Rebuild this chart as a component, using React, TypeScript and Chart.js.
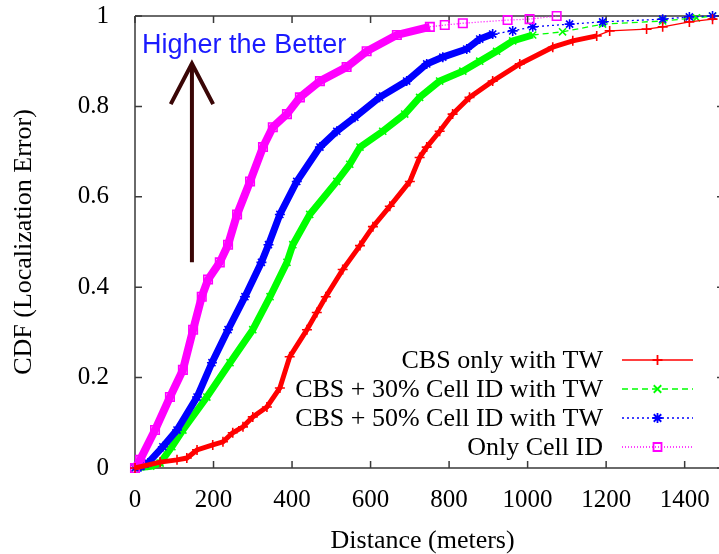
import React, { useEffect, useRef } from "react";
import { Chart, registerables } from "chart.js";

Chart.register(...registerables);

// ---------- data ----------
const xTickValues = [0, 200, 400, 600, 800, 1000, 1200, 1400];
const yTickValues = [0, 0.2, 0.4, 0.6, 0.8, 1];

const seriesLabels = [
  "CBS only with TW",
  "CBS + 30% Cell ID with TW",
  "CBS + 50% Cell ID with TW",
  "Only Cell ID",
];

const cbsDist = [0, 64, 107, 132, 158, 198, 224, 249, 275, 300, 336, 369, 394, 438, 463, 486, 529, 573, 606, 649, 700, 725, 743, 776, 809, 852, 911, 980, 1064, 1115, 1176, 1209, 1303, 1344, 1412, 1471];
const cbsCdf = [0, 0.013, 0.018, 0.022, 0.04, 0.051, 0.058, 0.078, 0.091, 0.113, 0.135, 0.177, 0.246, 0.306, 0.344, 0.379, 0.439, 0.492, 0.534, 0.579, 0.634, 0.687, 0.71, 0.745, 0.783, 0.82, 0.856, 0.894, 0.931, 0.945, 0.956, 0.967, 0.971, 0.976, 0.987, 0.993];

const cell30Dist = [0, 40, 64, 94, 122, 183, 242, 300, 344, 387, 402, 445, 514, 547, 573, 631, 687, 725, 776, 835, 878, 921, 962, 1013, 1089, 1191, 1344, 1430, 1471];
const cell30Cdf = [0, 0.004, 0.011, 0.047, 0.084, 0.157, 0.233, 0.306, 0.379, 0.455, 0.494, 0.561, 0.634, 0.672, 0.71, 0.745, 0.783, 0.82, 0.856, 0.878, 0.9, 0.922, 0.945, 0.958, 0.965, 0.982, 0.989, 0.996, 1.0];

const cell50Dist = [0, 15, 33, 71, 107, 158, 196, 237, 280, 322, 340, 369, 412, 471, 514, 560, 623, 692, 743, 784, 845, 878, 911, 962, 1013, 1107, 1191, 1344, 1412, 1471];
const cell50Cdf = [0, 0.003, 0.011, 0.047, 0.084, 0.157, 0.233, 0.306, 0.379, 0.455, 0.494, 0.561, 0.634, 0.71, 0.745, 0.776, 0.82, 0.856, 0.894, 0.909, 0.927, 0.949, 0.96, 0.967, 0.976, 0.982, 0.987, 0.993, 0.998, 1.0];

const cellOnlyDist = [0, 13, 51, 89, 122, 148, 170, 186, 216, 237, 260, 293, 326, 351, 387, 420, 471, 539, 590, 667, 751, 789, 835, 949, 1005, 1074];
const cellOnlyCdf = [0, 0.018, 0.084, 0.157, 0.217, 0.306, 0.379, 0.417, 0.455, 0.494, 0.561, 0.634, 0.71, 0.754, 0.783, 0.82, 0.856, 0.887, 0.922, 0.958, 0.976, 0.98, 0.984, 0.991, 0.993, 1.0];

const annotationText = "Higher the Better";

// ---------- styles ----------
const SERIF = "'Liberation Serif', 'Times New Roman', serif";
const SANS = "'Liberation Sans', Arial, sans-serif";

type Style = {
  color: string;
  dash: number[];
  point: string;
  band: number;
  radius: number;
  denseUntil: number;
};

const styles: Style[] = [
  { color: "#ff0000", dash: [], point: "cross", band: 5, radius: 5, denseUntil: 0.95 },
  { color: "#00ff00", dash: [6, 4], point: "crossRot", band: 7, radius: 5, denseUntil: 0.955 },
  { color: "#0000ff", dash: [2, 3], point: "star", band: 7, radius: 5, denseUntil: 0.955 },
  { color: "#ff00ff", dash: [1, 2], point: "rect", band: 8, radius: 6, denseUntil: 0.975 },
];

function toPoints(xs: number[], ys: number[]) {
  return xs.map((x, i) => ({ x, y: ys[i] }));
}

const allSeries = [
  toPoints(cbsDist, cbsCdf),
  toPoints(cell30Dist, cell30Cdf),
  toPoints(cell50Dist, cell50Cdf),
  toPoints(cellOnlyDist, cellOnlyCdf),
];

function drawMarker(ctx: CanvasRenderingContext2D, kind: string, x: number, y: number, r: number) {
  ctx.beginPath();
  if (kind === "cross" || kind === "star") {
    ctx.moveTo(x - r, y); ctx.lineTo(x + r, y);
    ctx.moveTo(x, y - r); ctx.lineTo(x, y + r);
  }
  if (kind === "crossRot" || kind === "star") {
    const d = r * 0.75;
    ctx.moveTo(x - d, y - d); ctx.lineTo(x + d, y + d);
    ctx.moveTo(x - d, y + d); ctx.lineTo(x + d, y - d);
  }
  if (kind === "rect") {
    ctx.rect(x - r * 0.8, y - r * 0.8, r * 1.6, r * 1.6);
  }
  ctx.stroke();
}

const decorPlugin = {
  id: "decor",
  beforeDatasetsDraw(chart: any) {
    const { ctx, chartArea: a, scales } = chart;
    const xs = scales.x;
    const ys = scales.y;
    const W = chart.width;
    ctx.save();
    ctx.strokeStyle = "#3a3a3a";
    ctx.lineWidth = 1.5;
    ctx.beginPath();
    ctx.moveTo(a.left, a.top);
    ctx.lineTo(W, a.top);
    ctx.moveTo(a.left, a.top);
    ctx.lineTo(a.left, a.bottom);
    ctx.lineTo(W, a.bottom);
    ctx.stroke();
    const tl = 7;
    ctx.beginPath();
    xTickValues.forEach((v) => {
      const px = xs.getPixelForValue(v);
      ctx.moveTo(px, a.bottom);
      ctx.lineTo(px, a.bottom - tl);
      ctx.moveTo(px, a.top);
      ctx.lineTo(px, a.top + tl);
    });
    yTickValues.forEach((v) => {
      const py = ys.getPixelForValue(v);
      ctx.moveTo(a.left, py);
      ctx.lineTo(a.left + tl, py);
      ctx.moveTo(W, py);
      ctx.lineTo(W - 2, py);
    });
    ctx.stroke();
    ctx.restore();
  },
  afterDraw(chart: any) {
    const { ctx, chartArea: a, scales } = chart;
    const xs = scales.x;
    const ys = scales.y;
    ctx.save();

    // annotation text
    ctx.fillStyle = "#1a1aff";
    ctx.font = `27px ${SANS}`;
    ctx.textAlign = "left";
    ctx.textBaseline = "alphabetic";
    ctx.fillText(annotationText, xs.getPixelForValue(18), ys.getPixelForValue(0.918));

    // arrow
    const ax = xs.getPixelForValue(145);
    const yBot = ys.getPixelForValue(0.455);
    const yTop = ys.getPixelForValue(0.895);
    const headDx = xs.getPixelForValue(145 + 54) - ax;
    const headDy = ys.getPixelForValue(0.805) - yTop;
    ctx.strokeStyle = "#3a0606";
    ctx.lineWidth = 4;
    ctx.lineCap = "butt";
    ctx.beginPath();
    ctx.moveTo(ax, yBot);
    ctx.lineTo(ax, yTop);
    ctx.stroke();
    ctx.beginPath();
    ctx.moveTo(ax - headDx, yTop + headDy);
    ctx.lineTo(ax, yTop);
    ctx.lineTo(ax + headDx, yTop + headDy);
    ctx.stroke();

    // legend
    const textRight = 603;
    const sampleL = 622;
    const sampleR = 693;
    const sampleM = (sampleL + sampleR) / 2;
    const rowY0 = a.bottom - 108;
    const rowGap = 29;
    ctx.font = `26px ${SERIF}`;
    ctx.textAlign = "right";
    ctx.textBaseline = "middle";
    seriesLabels.forEach((label, i) => {
      const y = rowY0 + i * rowGap;
      const st = styles[i];
      ctx.fillStyle = "#000";
      ctx.fillText(label, textRight, y + 1);
      ctx.strokeStyle = st.color;
      ctx.lineWidth = 1.3;
      ctx.setLineDash(st.dash);
      ctx.beginPath();
      ctx.moveTo(sampleL, y);
      ctx.lineTo(sampleR, y);
      ctx.stroke();
      ctx.setLineDash([]);
      ctx.lineWidth = 1.8;
      drawMarker(ctx, st.point, sampleM, y, 5);
    });
    ctx.restore();
  },
};

export default function App() {
  const canvasRef = useRef<HTMLCanvasElement | null>(null);

  useEffect(() => {
    const canvas = canvasRef.current;
    if (!canvas) return;
    const datasets = allSeries.map((pts, i) => {
      const st = styles[i];
      return {
        label: seriesLabels[i],
        data: pts,
        borderColor: st.color,
        backgroundColor: st.color,
        borderWidth: st.band,
        pointStyle: st.point,
        pointRadius: st.radius,
        pointBorderWidth: 1.6,
        pointBorderColor: st.color,
        pointBackgroundColor: "rgba(0,0,0,0)",
        tension: 0,
        fill: false,
        clip: { left: 6, top: 8, right: 12, bottom: 6 },
        order: i === 0 ? 0 : 4 - i,
        segment: {
          borderWidth: (c: any) => (c.p0.parsed.y >= st.denseUntil ? 1.3 : st.band),
          borderDash: (c: any) => (c.p0.parsed.y >= st.denseUntil ? st.dash : []),
        },
      };
    });

    const chart = new Chart(canvas, {
      type: "line",
      data: { datasets },
      options: {
        animation: false,
        responsive: false,
        devicePixelRatio: 1,
        layout: { padding: { top: 16, right: 0, left: 0, bottom: 0 } },
        plugins: {
          legend: { display: false },
          tooltip: { enabled: false },
        },
        scales: {
          x: {
            type: "linear",
            min: 0,
            max: 1465,
            grid: { display: false },
            border: { display: false },
            afterFit: (s: any) => {
              s.height = 86;
            },
            afterBuildTicks: (s: any) => {
              s.ticks = xTickValues.map((v) => ({ value: v }));
            },
            ticks: {
              color: "#000",
              padding: 9,
              maxRotation: 0,
              font: { family: SERIF, size: 25 },
              callback: (v: any) => String(Number(v)),
            },
            title: {
              display: true,
              text: "Distance (meters)",
              color: "#000",
              padding: { top: 0, bottom: 0 },
              font: { family: SERIF, size: 26, lineHeight: 1 },
            },
          },
          y: {
            type: "linear",
            min: 0,
            max: 1,
            grid: { display: false },
            border: { display: false },
            afterFit: (s: any) => {
              s.width = 135;
              s.paddingTop = 0;
              s.paddingBottom = 0;
            },
            afterBuildTicks: (s: any) => {
              s.ticks = yTickValues.map((v) => ({ value: v }));
            },
            ticks: {
              color: "#000",
              padding: 18,
              font: { family: SERIF, size: 25 },
              callback: (v: any) => String(Number(v)),
            },
            title: {
              display: true,
              text: "CDF (Localization Error)",
              color: "#000",
              padding: { top: 11, bottom: 0 },
              font: { family: SERIF, size: 26, lineHeight: 1 },
            },
          },
        },
      },
      plugins: [decorPlugin],
    } as any);

    return () => chart.destroy();
  }, []);

  return (
    <div style={{ position: "fixed", left: 0, top: 0, width: 719, height: 554, background: "#fff" }}>
      <canvas ref={canvasRef} width={719} height={554} style={{ display: "block" }} />
    </div>
  );
}
